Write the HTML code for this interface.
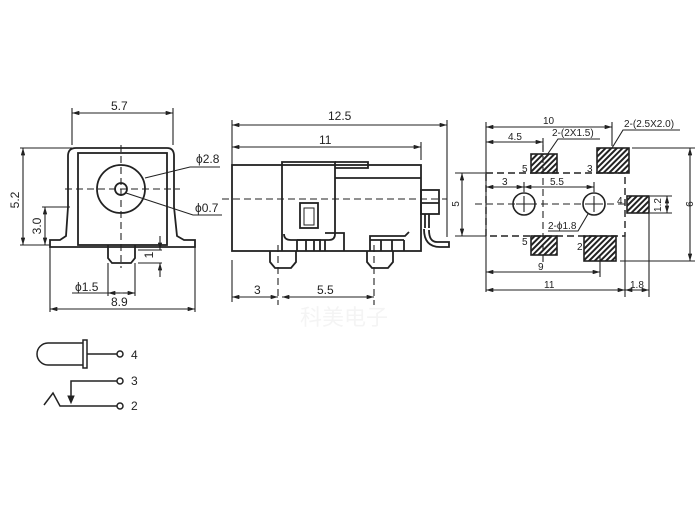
<!DOCTYPE html>
<html><head><meta charset="utf-8"><style>
html,body{margin:0;padding:0;background:#fff;}
svg{display:block;}
text{font-family:"Liberation Sans","Noto Sans CJK SC",sans-serif;fill:#222;}
</style></head><body>
<svg width="700" height="521" viewBox="0 0 700 521" xmlns="http://www.w3.org/2000/svg">
<defs>
<marker id="a" viewBox="0 0 10 6" refX="10" refY="3" markerWidth="8" markerHeight="4" orient="auto-start-reverse"><path d="M0,0 L10,3 L0,6 z" fill="#222"/></marker>
<pattern id="h" width="4" height="4" patternUnits="userSpaceOnUse" patternTransform="rotate(45)"><rect width="4" height="4" fill="#fff"/><rect width="2" height="4" fill="#222"/></pattern>
</defs>
<g stroke="#222" fill="none" stroke-width="1.1">
<!-- LEFT VIEW -->
<g stroke-width="1.8">
<path d="M50,247 L50,240 L60,240 L66,236 L68,207 L68,156 Q68,148 76,148 L167,148 Q174,148 174,156 L174,207 L177,236 L184,240 L195,240 L195,247 Z"/>
<rect x="78" y="153" width="89" height="92"/>
<circle cx="121" cy="189" r="24"/>
<circle cx="121" cy="189" r="6"/>
<path d="M108,245 L108,258 L112,263 L131,263 L135,258 L135,245"/>
</g>
<path d="M65,189 H180 M121,145 V268" stroke-dasharray="7,4"/>
<path d="M72,145 V108 M173,145 V108"/>
<path d="M72,113 H173" marker-start="url(#a)" marker-end="url(#a)"/>
<path d="M20,148 H72 M20,245 H50"/>
<path d="M23,148 V245" marker-start="url(#a)" marker-end="url(#a)"/>
<path d="M42,207 H70"/>
<path d="M45,207 V245" marker-start="url(#a)" marker-end="url(#a)"/>
<path d="M145,178 L190,167 H220"/>
<path d="M126,193 L193,215 H222"/>
<path d="M138,250 H162 M138,263 H162"/>
<path d="M160,236 V250" marker-end="url(#a)"/>
<path d="M160,277 V263" marker-end="url(#a)"/>
<path d="M108,263 V296 M135,263 V296 M50,247 V312 M195,247 V312"/>
<path d="M72,293 H108 M108,293 H135" />
<path d="M120,293 H108" marker-end="url(#a)"/>
<path d="M123,293 H135" marker-end="url(#a)"/>
<path d="M50,309 H195" marker-start="url(#a)" marker-end="url(#a)"/>
<!-- MIDDLE VIEW -->
<g stroke-width="1.8">
<rect x="232" y="165" width="189" height="86"/>
<path d="M282,251 V162 H335 V234 Q335,240 329,240 L291,240 Q284,240 284,234"/>
<path d="M335,162 H368 V168 H335 M335,178 H421"/>
<rect x="300" y="203" width="18" height="25"/>
<rect x="304" y="208" width="10" height="17" stroke-width="1"/>
<rect x="421" y="190" width="18" height="24"/>
<path d="M421,203 H439 M425,214 V228 M429,214 V228 M424,229 Q424,247 440,247 H449 V242 H437 Q429,242 429,230"/>
<path d="M297,240 V251 M297,240 H320 V251 M306,240 V251 M314,240 V251 M325,240 V251 M325,233 H344 V251"/>
<path d="M370,251 V236 H405 L409,232 M370,240 H404 M381,240 V251 M392,240 V251 M404,240 V251"/>
<path d="M270,251 V262 L275,268 H291 L296,262 V251 M367,251 V262 L372,268 H388 L393,262 V251"/>
</g>
<path d="M222,199 H447" stroke-dasharray="7,4"/>
<path d="M278,245 V305 M374,245 V305" stroke-dasharray="7,4"/>
<path d="M232,120 V166 M447,120 V237 M421,142 V160"/>
<path d="M232,125 H447" marker-start="url(#a)" marker-end="url(#a)"/>
<path d="M232,147 H421" marker-start="url(#a)" marker-end="url(#a)"/>
<path d="M232,260 V302"/>
<path d="M232,297 H278" marker-start="url(#a)" marker-end="url(#a)"/>
<path d="M282,297 H374" marker-start="url(#a)" marker-end="url(#a)"/>
<!-- RIGHT VIEW -->
<g stroke-width="1.6">
<rect x="531" y="154" width="26" height="19" fill="url(#h)"/>
<rect x="597" y="148" width="32" height="25" fill="url(#h)"/>
<rect x="627" y="196" width="22" height="17" fill="url(#h)"/>
<rect x="531" y="236" width="26" height="19" fill="url(#h)"/>
<rect x="584" y="236" width="32" height="25" fill="url(#h)"/>
<circle cx="524" cy="204" r="11"/>
<circle cx="594" cy="204" r="11"/>
</g>
<path d="M486,173 H625 V236 H486 Z" stroke-dasharray="7,4" stroke-width="1.4"/>
<path d="M475,204 H626 M543,145 V265" stroke-dasharray="7,4"/>
<path d="M524,196 V212 M516,204 H532 M594,196 V212 M586,204 H602"/>
<path d="M486,122 V292 M612,122 V146 M543,138 V150"/>
<path d="M486,127 H612" marker-start="url(#a)" marker-end="url(#a)"/>
<path d="M486,142 H543" marker-start="url(#a)" marker-end="url(#a)"/>
<path d="M547,155 L558,139 H600"/>
<path d="M612,148 L623,130 H680"/>
<path d="M455,173 H486 M455,236 H486"/>
<path d="M462,173 V236" marker-start="url(#a)" marker-end="url(#a)"/>
<path d="M632,148 H695 M620,261 H695"/>
<path d="M690,148 V261" marker-start="url(#a)" marker-end="url(#a)"/>
<path d="M650,196 H672 M650,213 H672"/>
<path d="M667,196 V213" marker-start="url(#a)" marker-end="url(#a)"/>
<path d="M524,182 V192 M594,182 V192"/>
<path d="M486,187 H524" marker-start="url(#a)" marker-end="url(#a)"/>
<path d="M524,187 H594" marker-start="url(#a)" marker-end="url(#a)"/>
<path d="M548,231 H578 L588,214"/>
<path d="M600,255 V277"/>
<path d="M486,272 H600" marker-start="url(#a)" marker-end="url(#a)"/>
<path d="M625,236 V297 M649,213 V297"/>
<path d="M486,290 H625" marker-start="url(#a)" marker-end="url(#a)"/>
<path d="M625,290 H649" marker-start="url(#a)" marker-end="url(#a)"/>
<!-- SCHEMATIC -->
<g stroke-width="1.5">
<path d="M83,343 H48 A11,11 0 0 0 48,365 H83"/>
<rect x="83" y="340" width="4" height="28"/>
<path d="M87,354 H117"/>
<circle cx="120" cy="354" r="3"/>
<path d="M117,381 H71 V400"/>
<path d="M68,396 L71,403 L74,396 Z" fill="#222" stroke-width="1"/>
<circle cx="120" cy="381" r="3"/>
<path d="M44,405 L53,393 L60,406 H117"/>
<circle cx="120" cy="406" r="3"/>
</g>
</g>
<g font-size="12">
<text x="111" y="110">5.7</text>
<text x="196" y="163">ϕ2.8</text>
<text x="195" y="212">ϕ0.7</text>
<text x="75" y="291">ϕ1.5</text>
<text x="111" y="306">8.9</text>
<text transform="translate(19,200) rotate(-90)" text-anchor="middle">5.2</text>
<text transform="translate(41,226) rotate(-90)" text-anchor="middle">3.0</text>
<text transform="translate(153,255) rotate(-90)" text-anchor="middle">1</text>
<text x="328" y="120">12.5</text>
<text x="319" y="144">11</text>
<text x="254" y="294">3</text>
<text x="317" y="294">5.5</text>
</g>
<g font-size="10">
<text x="543" y="124">10</text>
<text x="508" y="140">4.5</text>
<text x="552" y="136">2-(2X1.5)</text>
<text x="624" y="127">2-(2.5X2.0)</text>
<text x="502" y="185">3</text>
<text x="550" y="185">5.5</text>
<text x="548" y="229">2-ϕ1.8</text>
<text x="522" y="172">5</text>
<text x="587" y="172">3</text>
<text x="617" y="204">4</text>
<text x="522" y="245">5</text>
<text x="577" y="250">2</text>
<text x="538" y="270">9</text>
<text x="544" y="288">11</text>
<text x="630" y="288">1.8</text>
<text transform="translate(459,204) rotate(-90)" text-anchor="middle">5</text>
<text transform="translate(686,204) rotate(90)" text-anchor="middle">9</text>
<text transform="translate(661,205) rotate(-90)" text-anchor="middle">1.2</text>
</g>
<g font-size="12">
<text x="131" y="359">4</text>
<text x="131" y="385">3</text>
<text x="131" y="410">2</text>
</g>
<text x="300" y="325" font-size="22" style="fill:#f4f4f4">科美电子</text>
</svg>
</body></html>
